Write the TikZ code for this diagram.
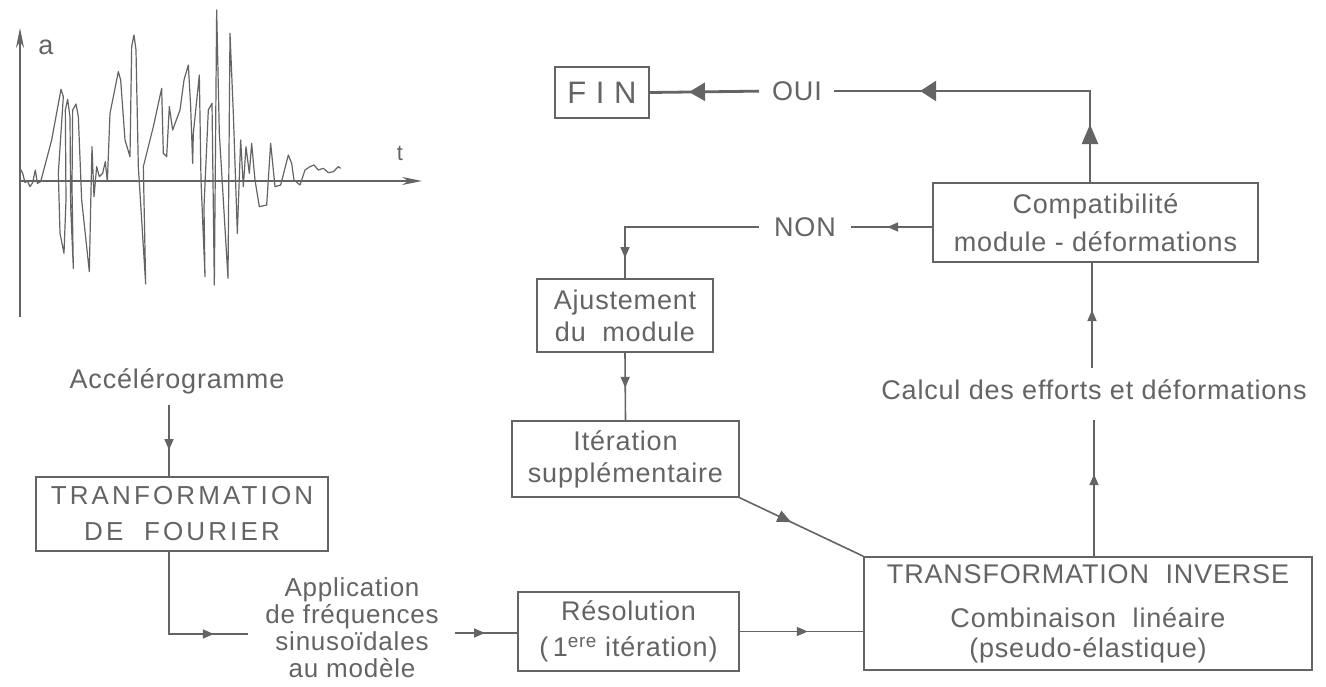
\documentclass[tikz,border=0pt]{standalone}
\usepackage{fontspec}
\setmainfont{Liberation Sans}[LetterSpace=3]
\usetikzlibrary{arrows.meta,decorations.markings,calc}
\definecolor{ink}{RGB}{100,100,100}
\begin{document}
\begin{tikzpicture}[x=1pt,y=-1pt,
  box/.style={draw=ink, line width=1.6pt, text=ink, align=center, inner sep=0pt,
    font=\fontsize{27}{32}\selectfont},
  lbl/.style={text=ink, align=center, inner sep=0pt, font=\fontsize{27}{32}\selectfont},
  conn/.style={draw=ink, line width=1.6pt},
  thickconn/.style={draw=ink, line width=2.8pt},
  ma/.style={postaction={decorate}, decoration={markings,
    mark=at position #1 with {\arrow{Triangle[length=11pt,width=9pt]}}}},
  mb/.style={postaction={decorate}, decoration={markings,
    mark=at position #1 with {\arrow{Triangle[length=14pt,width=12pt]}}}},
  MA/.style={postaction={decorate}, decoration={markings,
    mark=at position #1 with {\arrow{Triangle[length=16pt,width=18pt]}}}},
  MAA/.style 2 args={postaction={decorate}, decoration={markings,
    mark=at position #1 with {\arrow{Triangle[length=20pt,width=16pt]}},
    mark=at position #2 with {\arrow{Triangle[length=16pt,width=20pt]}}}}
]
\fill[white] (0,0) rectangle (1326,687);
\useasboundingbox (0,0) rectangle (1326,687);

% ---- accelerogram sketch
\draw[ink, line width=1.5pt, -{Stealth[length=20pt,width=8pt]}] (20,317) -- (20,28);
\draw[ink, line width=1.5pt, -{Stealth[length=20pt,width=8pt]}] (20,181) -- (422,181);
\node[lbl] (la) at (46,47) {a};
\node[lbl, font=\fontsize{22}{22}\selectfont] (lt) at (400,153) {t};
\begin{scope}[scale=1/3]
\draw[ink, line width=1.2pt, line join=round] plot coordinates {
(60,505) (68,520) (75,548) (82,543) (90,560) (98,548) (106,510) (112,550) (122,545)
(155,420) (183,268) (190,290) (175,520) (180,700) (192,760) (198,600) (196,330)
(203,298) (210,350) (212,620) (220,805) (216,560) (218,330) (228,312) (235,350)
(245,600) (268,815) (272,620) (276,440) (282,590) (290,500) (298,530) (308,520)
(316,485) (322,545) (330,340) (355,215) (362,240) (375,420) (390,470) (395,140)
(402,105) (408,150) (415,500) (437,852) (430,500) (460,380) (485,265) (490,460)
(500,470) (508,320) (518,390) (540,330) (552,240) (565,195) (572,320) (578,490)
(580,400) (598,225) (603,540) (615,830) (612,620) (625,330) (636,310) (643,855)
(650,30) (658,400) (684,835) (690,100) (700,340) (712,700) (722,420) (730,560)
(738,440) (748,520) (755,430) (765,540) (778,620) (800,615) (812,430) (825,560)
(842,555) (865,465) (875,490) (882,540) (900,555) (915,510) (930,500) (942,495)
(955,510) (970,505) (985,518) (1000,515) (1015,500) (1022,505)};
\end{scope}

% ---- nodes
\node[box, minimum width=94pt, minimum height=51pt, font=\fontsize{31}{31}\selectfont] (fin) at (602,92.5) {F I N};
\node[lbl] (oui) at (797,91) {OUI};
\node[lbl] (non) at (805,227) {NON};
\node[box, minimum width=325pt, minimum height=79pt, font=\fontsize{27}{38}\selectfont] (comp) at (1095.5,222.5) {Compatibilité\\module - déformations};
\node[box, minimum width=176pt, minimum height=73pt] (aj) at (625,315.5) {Ajustement\\du\ \ module};
\node[box, minimum width=227pt, minimum height=76pt] (it) at (625.5,459) {Itération\\supplémentaire};
\node[box, minimum width=221pt, minimum height=79pt, font=\fontsize{27}{36}\selectfont] (res) at (628.5,631.5) {Résolution\\(\,1\textsuperscript{ere} itération)};
\node[box, minimum width=448pt, minimum height=113pt, font=\fontsize{27}{30}\selectfont] (tr) at (1088,613.5) {TRANSFORMATION\ \ INVERSE\\[14pt]Combinaison\ \ linéaire\\(pseudo-élastique)};
\node[box, minimum width=292pt, minimum height=74pt, font=\fontsize{26}{36}\selectfont\addfontfeature{LetterSpace=12}] (four) at (182,514) {TRANFORMATION\\DE\ \ FOURIER};
\node[lbl] (acc) at (177,381) {Accélérogramme};
\node[lbl, font=\fontsize{26}{27}\selectfont] (app) at (352,628) {Application\\de fréquences\\sinusoïdales\\au modèle};
\node[lbl] (calc) at (1094,390) {Calcul des efforts et déformations};

% ---- connectors
\coordinate (a1) at (169,405);
\coordinate (a2) at (248,634);
\coordinate (a3) at (455,633);
\coordinate (c1) at (1094,420);
\coordinate (c2) at (1092,368);
\coordinate (c3) at (1090,91);

\draw[conn, ma=45pt] (a1) -- (a1 |- four.north);
\draw[conn, ma=127pt] (four.south -| a1) |- (a2);
\draw[conn, ma=30pt] (a3) -- (a3 -| res.west);
\draw[conn, ma=68pt] (res.east) -- (res.east -| tr.west);
\draw[conn, mb=57pt] (it.south east) -- (tr.north west);
\draw[conn, ma=82pt] (c1 |- tr.north) -- (c1);
\draw[conn, ma=58pt] (c2) -- (c2 |- comp.south);
\draw[thickconn, MAA={58pt}{261pt}, shorten >=12pt] (c3 |- comp.north) -- (c3) -- (oui.east);
\draw[thickconn, MA=83pt, shorten <=13pt] (oui.west) -- (fin.east);
\draw[conn, ma=45pt, shorten >=15pt] (comp.west |- non) -- (non.east);
\draw[conn, ma=180pt, shorten <=15pt] (non.west) -| (aj.north);
\draw[conn, ma=35pt] (aj.south) -- (it.north);
\end{tikzpicture}
\end{document}
